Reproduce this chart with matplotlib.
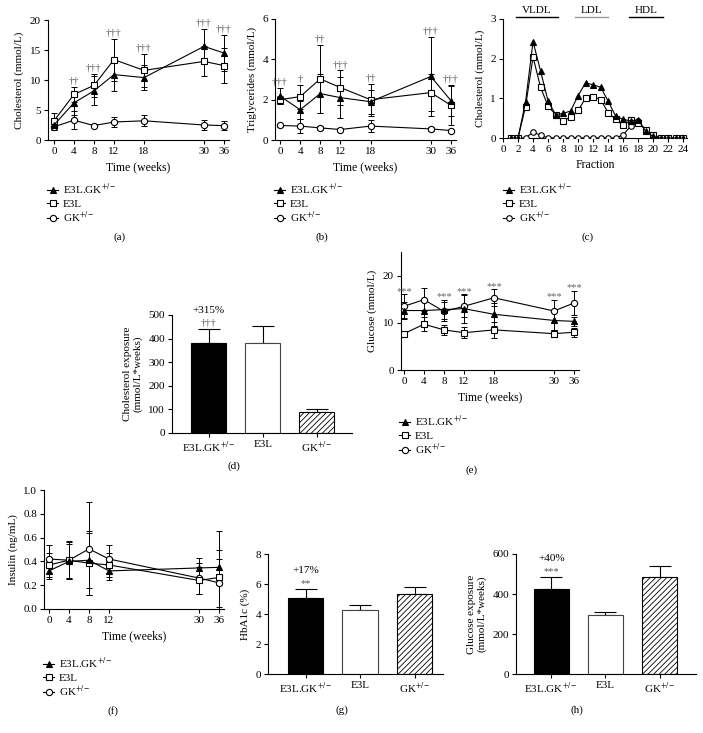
import matplotlib
matplotlib.use("Agg")
import matplotlib.pyplot as plt
import numpy as np

plt.rcParams["font.family"] = ["Liberation Serif", "DejaVu Serif"]
plt.rcParams["mathtext.fontset"] = "stix"
plt.rcParams["font.size"] = 8
plt.rcParams["hatch.linewidth"] = 0.6

# ---- data ----
groups = ["E3L.GK$^{+/-}$", "E3L", "GK$^{+/-}$"]
weeks = [0, 4, 8, 12, 18, 30, 36]
weeks_ins = [0, 4, 8, 12, 30, 36]

# (a) cholesterol
chol = [[2.5, 6.2, 8.2, 10.9, 10.4, 15.6, 14.5],
        [3.2, 7.6, 9.1, 13.4, 11.6, 13.1, 12.4],
        [2.2, 3.3, 2.4, 3.0, 3.2, 2.5, 2.4]]
chol_err = [[0.5, 2.0, 2.4, 2.8, 2.1, 2.9, 3.0],
            [1.3, 1.3, 1.9, 3.5, 2.8, 2.5, 2.9],
            [0.5, 1.5, 0.2, 0.8, 0.9, 0.8, 0.7]]
chol_sig = ["", "††", "†††", "†††", "†††", "†††", "†††"]

# (b) triglycerides
tg = [[2.18, 1.5, 2.3, 2.1, 1.9, 3.15, 1.95],
      [2.0, 2.15, 3.03, 2.6, 2.0, 2.35, 1.72],
      [0.72, 0.69, 0.6, 0.52, 0.69, 0.55, 0.47]]
tg_err = [[0.4, 0.45, 0.95, 1.0, 0.6, 1.95, 0.75],
          [0.2, 0.6, 1.7, 0.85, 0.8, 0.9, 1.0],
          [0.08, 0.35, 0.08, 0.08, 0.3, 0.08, 0.05]]
tg_sig = ["†††", "†", "††", "†††", "††", "†††", "†††"]

# (c) lipoprotein profile
fractions = list(range(1, 25))
prof = [[0, 0, 0.91, 2.43, 1.69, 0.93, 0.59, 0.62, 0.68, 1.07, 1.39, 1.34,
         1.28, 0.93, 0.55, 0.47, 0.43, 0.46, 0.17, 0.04, 0, 0, 0, 0],
        [0, 0, 0.79, 2.04, 1.28, 0.80, 0.59, 0.43, 0.53, 0.70, 1.00, 1.04,
         0.97, 0.64, 0.47, 0.32, 0.45, 0.39, 0.21, 0.08, 0, 0, 0, 0],
        [0, 0, 0, 0.15, 0.07, 0, 0, 0, 0, 0, 0, 0,
         0, 0, 0, 0.08, 0.30, 0.42, 0.20, 0.05, 0, 0, 0, 0]]
lipo_names = ["VLDL", "LDL", "HDL"]
lipo_ranges = [(1.7, 7.3), (9.6, 14.0), (16.8, 21.3)]
lipo_colors = ["black", "#999999", "black"]

# (d) cholesterol exposure
chol_exp = [380, 380, 88]
chol_exp_err = [60, 75, 12]

# (e) glucose
glu = [[12.6, 12.6, 12.8, 13.0, 11.8, 10.5, 10.3],
       [7.7, 9.7, 8.5, 7.9, 8.5, 7.7, 8.0],
       [13.5, 14.9, 12.4, 13.5, 15.3, 12.5, 14.2]]
glu_err = [[1.9, 2.2, 2.0, 3.0, 2.5, 2.0, 1.0],
           [0.5, 1.5, 1.0, 1.2, 1.7, 0.7, 1.0],
           [2.5, 2.5, 2.0, 2.3, 1.8, 2.4, 2.6]]
glu_sig = ["***", "", "***", "***", "***", "***", "***"]

# (f) insulin
ins = [[0.32, 0.40, 0.41, 0.32, 0.345, 0.35],
       [0.37, 0.41, 0.385, 0.37, 0.24, 0.265],
       [0.42, 0.41, 0.505, 0.42, 0.26, 0.22]]
ins_err = [[0.07, 0.15, 0.23, 0.08, 0.08, 0.15],
           [0.10, 0.15, 0.27, 0.10, 0.11, 0.39],
           [0.12, 0.16, 0.39, 0.12, 0.13, 0.20]]

# (g) HbA1c, (h) glucose exposure
hba1c = [5.05, 4.3, 5.35]
hba1c_err = [0.6, 0.3, 0.47]
glu_exp = [425, 293, 485]
glu_exp_err = [60, 18, 53]

# ---- layout helpers ----
W, H = 703, 733
fig = plt.figure(figsize=(W / 100, H / 100), dpi=100)


def box(x0, y0, x1, y1):
    return fig.add_axes([x0 / W, 1 - y1 / H, (x1 - x0) / W, (y1 - y0) / H])


def fwd(x):
    x = np.asarray(x, float)
    return np.where(x <= 30, x, 30 + (x - 30) * 2 / 3)


def inv(x):
    x = np.asarray(x, float)
    return np.where(x <= 30, x, 30 + (x - 30) * 1.5)


styles = [dict(marker="^", mfc="black"),
          dict(marker="s", mfc="white"),
          dict(marker="o", mfc="white")]


def clean(ax):
    for s in ["top", "right"]:
        ax.spines[s].set_visible(False)
    for s in ["left", "bottom"]:
        ax.spines[s].set_linewidth(0.8)
    ax.tick_params(direction="out", length=3, width=0.8, labelsize=8, pad=2)


def add_legend(ax, x, y):
    ax.legend(loc="upper left", bbox_to_anchor=(x / W, 1 - y / H),
              bbox_transform=fig.transFigure, frameon=False, fontsize=8,
              handlelength=1.0, handletextpad=0.45, labelspacing=0.15,
              borderpad=0, borderaxespad=0)


def lines(ax, x, ys, errs=None, ms=4.5):
    for i, (lab, y, st) in enumerate(zip(groups, ys, styles)):
        if errs is not None:
            ax.errorbar(x, y, yerr=errs[i], fmt="none", ecolor="black",
                        elinewidth=0.7, capsize=2.3, capthick=0.7, zorder=2)
        ax.plot(x, y, color="black", lw=0.8, ms=ms, mec="black", mew=0.8,
                label=lab, zorder=3 + (2 - i), **st)


def time_axes(ax, ticks, xmin=-1.2):
    ax.set_xscale("function", functions=(fwd, inv))
    ax.set_xlim(xmin, 37.5)
    ax.set_xticks(ticks)
    ax.set_xticklabels([str(t) for t in ticks])
    ax.set_xlabel("Time (weeks)", fontsize=8.5, labelpad=4)


def sig_marks(ax, x, ys, errs, marks, color="#555555", off=1):
    for j, m in enumerate(marks):
        if not m:
            continue
        top = max(ys[i][j] + errs[i][j] for i in range(3))
        ax.annotate(m, (x[j], top), xytext=(0, off), textcoords="offset points",
                    ha="center", va="bottom", fontsize=7.5, color=color)


def bar_panel(ax, vals, errs, ylim, yticks, ylabel, pct, sig):
    pos = np.arange(3)
    bars = ax.bar(pos, vals, width=0.65, color=["black", "white", "white"],
                  edgecolor=["black", "#444444", "black"], linewidth=0.8, zorder=2)
    bars[2].set_hatch("//////")
    ax.errorbar(pos, vals, yerr=[np.zeros(3), errs], fmt="none", ecolor="black",
                elinewidth=0.8, capsize=8, capthick=0.8, zorder=1)
    ax.set_ylim(*ylim)
    ax.set_yticks(yticks)
    ax.set_xticks(pos)
    ax.set_xticklabels(groups, fontsize=8)
    ax.set_ylabel(ylabel, fontsize=8)
    top = vals[0] + errs[0]
    ax.annotate(sig, (0, top), xytext=(0, 1), textcoords="offset points",
                ha="center", va="bottom", fontsize=7.5, color="#555555")
    ax.annotate(pct, (0, top), xytext=(0, 10), textcoords="offset points",
                ha="center", va="bottom", fontsize=8)
    clean(ax)


# (a)
ax = box(48, 20, 229, 140)
lines(ax, weeks, chol, chol_err)
time_axes(ax, weeks)
ax.set_ylim(0, 20)
ax.set_yticks([0, 5, 10, 15, 20])
ax.set_ylabel("Cholesterol (mmol/L)", fontsize=8)
sig_marks(ax, weeks, chol, chol_err, chol_sig)
clean(ax)
add_legend(ax, 47, 182)

# (b)
ax = box(275, 19, 456, 140)
lines(ax, weeks, tg, tg_err)
time_axes(ax, weeks, xmin=-1.0)
ax.set_ylim(0, 6)
ax.set_yticks([0, 2, 4, 6])
ax.set_ylabel("Triglycerides (mmol/L)", fontsize=8)
sig_marks(ax, weeks, tg, tg_err, tg_sig)
clean(ax)
add_legend(ax, 274, 182)

# (c)
ax = box(503, 19, 687, 138)
lines(ax, fractions, prof, ms=4)
ax.set_xlim(0, 24.5)
ax.set_ylim(0, 3)
ax.set_xticks(range(0, 25, 2))
ax.set_yticks([0, 1, 2, 3])
ax.set_xlabel("Fraction", fontsize=8.5, labelpad=4)
ax.set_ylabel("Cholesterol (mmol/L)", fontsize=8)
for name, (x0, x1), col in zip(lipo_names, lipo_ranges, lipo_colors):
    ax.plot([x0, x1], [3.05, 3.05], color=col, lw=1.0, clip_on=False)
    ax.text((x0 + x1) / 2, 3.09, name, ha="center", va="bottom", fontsize=8)
clean(ax)
add_legend(ax, 503, 182)

# (d)
ax = box(172, 315, 352, 433)
ax.set_xlim(-0.68, 2.65)
bar_panel(ax, chol_exp, chol_exp_err, (0, 500), [0, 100, 200, 300, 400, 500],
          "Cholesterol exposure\n(mmol/L*weeks)", "+315%", "†††")

# (e)
ax = box(401, 252, 579, 370)
lines(ax, weeks, glu, glu_err)
time_axes(ax, weeks, xmin=-0.6)
ax.set_ylim(0, 25)
ax.set_yticks([0, 10, 20])
ax.set_ylabel("Glucose (mmol/L)", fontsize=8)
sig_marks(ax, weeks, glu, glu_err, glu_sig, color="#666666", off=-1)
clean(ax)
add_legend(ax, 399, 414)

# (f)
ax = box(44, 490, 224, 609)
lines(ax, weeks_ins, ins, ins_err)
time_axes(ax, weeks_ins, xmin=-1.0)
ax.set_ylim(0, 1.0)
ax.set_yticks([0, 0.2, 0.4, 0.6, 0.8, 1.0])
ax.set_yticklabels(["0.0", "0.2", "0.4", "0.6", "0.8", "1.0"])
ax.set_ylabel("Insulin (ng/mL)", fontsize=8)
clean(ax)
add_legend(ax, 43, 656)

# (g)
ax = box(268, 554, 443, 674)
ax.set_xlim(-0.69, 2.52)
bar_panel(ax, hba1c, hba1c_err, (0, 8), [0, 2, 4, 6, 8], "HbA1c (%)", "+17%", "**")

# (h)
ax = box(516, 554, 696, 674)
ax.set_xlim(-0.65, 2.67)
bar_panel(ax, glu_exp, glu_exp_err, (0, 600), [0, 200, 400, 600],
          "Glucose exposure\n(mmol/L*weeks)", "+40%", "***")

for lab, x, y in [("(a)", 120, 237), ("(b)", 322, 237), ("(c)", 588, 237),
                  ("(d)", 234, 466), ("(e)", 472, 470), ("(f)", 113, 711),
                  ("(g)", 342, 710), ("(h)", 577, 710)]:
    fig.text(x / W, 1 - y / H, lab, ha="center", va="center", fontsize=8)

fig.savefig("out.png", dpi=100)
